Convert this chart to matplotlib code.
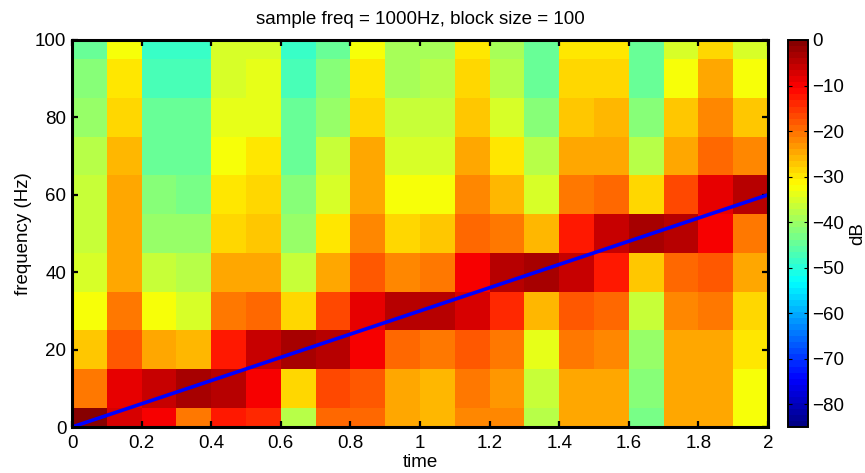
import numpy as np
import matplotlib
matplotlib.use('Agg')
import matplotlib.pyplot as plt
from matplotlib.colors import ListedColormap, Normalize
from matplotlib.cm import ScalarMappable

plt.rcParams['font.family'] = ['Liberation Sans', 'DejaVu Sans']

times = [0.05 + 0.1 * i for i in range(20)]
freqs = [0, 10, 20, 30, 40, 50, 60, 70, 80, 90, 100]
# one row per frequency, lowest first
row_0 = [-0.5, -7, -9.5, -21, -13, -14.5, -38.5, -19, -19, -25, -26.5, -21.5, -22.5, -38, -24, -24, -43, -24.5, -24.5, -32]
row_10 = [-21, -8, -6, -3.5, -5, -10.6, -29, -16, -17.5, -24, -26.5, -20, -23.5, -36.5, -24, -24, -41.5, -24.5, -24.5, -32]
row_20 = [-27, -17.5, -24, -26.5, -13, -5.5, -3.5, -5, -9.5, -19, -21, -17.5, -20, -33.5, -21, -22.5, -40, -24, -24, -30.5]
row_30 = [-32, -21, -32, -35, -21, -19, -29, -16, -8, -5, -4.5, -7.5, -14.5, -26.5, -17.5, -19, -36.5, -22.5, -21, -29]
row_40 = [-35, -24, -36, -38.5, -25, -24.5, -37, -25, -17.5, -22, -20, -9.5, -4.5, -3, -6, -12, -27.5, -19, -17.5, -25]
row_50 = [-36, -25, -40, -40, -28, -27, -40, -30, -22, -28, -27.5, -19, -20, -26.5, -12, -6, -3, -4.5, -9.5, -20]
row_60 = [-37, -25, -42.5, -43, -30, -29, -42.5, -35, -24, -32, -32, -22.5, -26, -35, -20, -19, -29, -16, -8, -5]
row_70 = [-38.5, -26.5, -44, -44, -32, -30, -44, -37, -25, -35, -35, -24.5, -30, -38.5, -24, -24, -38, -24, -19, -22]
row_80 = [-40, -28, -45, -45, -33.5, -33.5, -45, -40, -28, -36, -36.5, -27.5, -35, -41.5, -27.5, -26, -41.5, -27.5, -22.5, -27.5]
row_90 = [-41.5, -30, -46.5, -46.5, -35, -33.5, -46.5, -41.5, -30, -39, -38, -29, -38, -44, -29, -29, -44, -32, -25, -32]
row_100 = [-44, -32, -48, -48, -35, -35, -48, -44, -32, -39, -39, -30, -39, -45, -30.5, -30.5, -45, -35, -28, -35]
power_db = [row_0, row_10, row_20, row_30, row_40, row_50, row_60, row_70, row_80, row_90, row_100]

chirp_t = [0, 2]
chirp_f = [0, 60]
vmin, vmax = -85, 0
cbar_ticks = [0, -10, -20, -30, -40, -50, -60, -70, -80]

FS = 13.5
W, H = 865, 473
t = (np.arange(64) + 0.5) / 64
cmap = ListedColormap(np.clip(np.stack([1.5 - abs(4*t - 3), 1.5 - abs(4*t - 2), 1.5 - abs(4*t - 1)], axis=1), 0, 1))
norm = Normalize(vmin, vmax)

fig = plt.figure(figsize=(W/100, H/100), dpi=100)
ax = fig.add_axes([72/W, 1 - 427/H, (768-72)/W, (427-40)/H])
ax.pcolormesh(times, freqs, np.array(power_db), cmap=cmap, norm=norm, shading='nearest')
ax.plot(chirp_t, chirp_f, color='#0000ff', lw=2.6, solid_capstyle='butt')
ax.set_xlim(0, 2)
ax.set_ylim(0, 100)
ax.set_xticks(np.arange(0, 2.01, 0.2))
ax.set_xticklabels(['0', '0.2', '0.4', '0.6', '0.8', '1', '1.2', '1.4', '1.6', '1.8', '2'])
ax.set_yticks(range(0, 101, 20))
ax.tick_params(direction='in', top=True, right=True, length=4.5, width=1.6, labelsize=FS)
ax.tick_params(axis='x', pad=5.5)
ax.tick_params(axis='y', pad=4)
for s in ax.spines.values():
    s.set_linewidth(2.2)
ax.set_xlabel('time', fontsize=FS, labelpad=1.5)
ax.set_ylabel('frequency (Hz)', fontsize=FS, labelpad=2.5)
ax.set_title('sample freq = 1000Hz, block size = 100', fontsize=FS, pad=11.5)

cax = fig.add_axes([788/W, 1 - 427/H, 20/W, (427-40)/H])
cb = fig.colorbar(ScalarMappable(norm=norm, cmap=cmap), cax=cax)
cb.set_ticks(cbar_ticks)
cb.ax.tick_params(direction='in', right=True, left=True, length=3, width=0.8, labelsize=FS, pad=3)
cb.outline.set_linewidth(1.4)
cb.set_label('dB', fontsize=FS, labelpad=3.5)

fig.savefig('out.png', dpi=100)
